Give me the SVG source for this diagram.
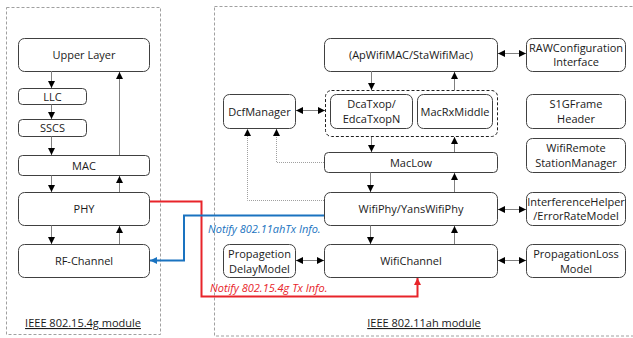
<svg xmlns="http://www.w3.org/2000/svg" width="633" height="338" viewBox="0 0 633 338">
<defs>
<marker id="ah" viewBox="0 0 10 10" refX="10" refY="5" markerWidth="7" markerHeight="7" markerUnits="userSpaceOnUse" orient="auto-start-reverse"><path d="M0,0 L10,5 L0,10 z" fill="#000"/></marker>
<marker id="ahr" viewBox="0 0 10 10" refX="10" refY="5" markerWidth="7" markerHeight="7" markerUnits="userSpaceOnUse" orient="auto"><path d="M0,0 L10,5 L0,10 z" fill="#e8242a"/></marker>
<marker id="ahb" viewBox="0 0 10 10" refX="10" refY="5" markerWidth="7" markerHeight="7" markerUnits="userSpaceOnUse" orient="auto"><path d="M0,0 L10,5 L0,10 z" fill="#1a73c0"/></marker>
</defs>
<style>
.mod{fill:none;stroke:#a0a0a0;stroke-width:1;stroke-dasharray:3,2}
.box{fill:#fff;stroke:#404040;stroke-width:1}
.grp{fill:none;stroke:#202020;stroke-width:1;stroke-dasharray:3,2}
text{font-family:"Open Sans","Liberation Sans",sans-serif;font-size:11px;fill:#1a1a1a;text-anchor:middle}
.lbl{text-decoration:underline}
.c{fill:none;stroke:#808080;stroke-width:1;marker-end:url(#ah)}
.bi{fill:none;stroke:#808080;stroke-width:1;marker-end:url(#ah);marker-start:url(#ah)}
.dot{fill:none;stroke:#a0a0a0;stroke-width:1;stroke-dasharray:1,1;marker-end:url(#ah)}
.red{fill:none;stroke:#e8242a;stroke-width:2;marker-end:url(#ahr)}
.blue{fill:none;stroke:#1a73c0;stroke-width:2;marker-end:url(#ahb)}
.rt{fill:#e8242a;font-style:italic;text-anchor:start}
.bt{fill:#1a73c0;font-style:italic;text-anchor:start}
</style>
<g id="module-154g">
<rect class="mod" x="6.5" y="7.5" width="154" height="327"/>
<text class="lbl" x="83" y="327">IEEE 802.15.4g module</text>
</g>
<g id="module-11ah">
<rect class="mod" x="214.5" y="6.5" width="430" height="329.5"/>
<text class="lbl" x="424" y="327">IEEE 802.11ah module</text>
</g>
<g id="upper-layer"><rect class="box" x="18.5" y="38.5" width="131" height="33" rx="6"/><text x="84" y="59">Upper Layer</text></g>
<g id="llc"><rect class="box" x="18.5" y="88.5" width="68" height="16" rx="4"/><text x="52.5" y="100.5">LLC</text></g>
<g id="sscs"><rect class="box" x="18.5" y="119.5" width="68" height="17" rx="4"/><text x="52.5" y="132">SSCS</text></g>
<g id="mac"><rect class="box" x="18.5" y="155.5" width="131" height="20" rx="4"/><text x="84" y="169.5">MAC</text></g>
<g id="phy"><rect class="box" x="18.5" y="192.5" width="131" height="33" rx="6"/><text x="84" y="213">PHY</text></g>
<g id="rf-channel"><rect class="box" x="18.5" y="244.5" width="131" height="33" rx="6"/><text x="84" y="265">RF-Channel</text></g>
<g id="apwifimac"><rect class="box" x="324.5" y="38.5" width="173" height="33" rx="6"/><text x="411" y="59">(ApWifiMAC/StaWifiMac)</text></g>
<g id="rawconfig"><rect class="box" x="526.5" y="38.5" width="99" height="33" rx="6"/><text x="576" y="51.5">RAWConfiguration</text><text x="576" y="66">Interface</text></g>
<g id="txop-group"><rect class="grp" x="325.5" y="90.5" width="172" height="46" rx="6"/></g>
<g id="dcatxop"><rect class="box" x="330.5" y="94.5" width="82" height="34" rx="6"/><text x="371.5" y="108">DcaTxop/</text><text x="371.5" y="123">EdcaTxopN</text></g>
<g id="macrxmiddle"><rect class="box" x="417.5" y="94.5" width="75" height="34" rx="6"/><text x="455" y="115.5">MacRxMiddle</text></g>
<g id="dcfmanager"><rect class="box" x="223.5" y="94.5" width="72" height="34" rx="6"/><text x="259.5" y="115.5">DcfManager</text></g>
<g id="s1gframe"><rect class="box" x="526.5" y="94.5" width="99" height="34" rx="6"/><text x="576" y="108">S1GFrame</text><text x="576" y="123">Header</text></g>
<g id="wifiremote"><rect class="box" x="526.5" y="138.5" width="99" height="34" rx="6"/><text x="576" y="152">WifiRemote</text><text x="576" y="167">StationManager</text></g>
<g id="maclow"><rect class="box" x="324.5" y="152.5" width="173" height="20" rx="4"/><text x="411" y="166.5">MacLow</text></g>
<g id="wifiphy"><rect class="box" x="324.5" y="192.5" width="173" height="33" rx="6"/><text x="411" y="213">WifiPhy/YansWifiPhy</text></g>
<g id="interference"><rect class="box" x="526.5" y="192.5" width="99" height="33" rx="6"/><text x="576" y="206">InterferenceHelper</text><text x="576" y="220">/ErrorRateModel</text></g>
<g id="wifichannel"><rect class="box" x="324.5" y="244.5" width="173" height="33" rx="6"/><text x="411" y="265">WifiChannel</text></g>
<g id="proploss"><rect class="box" x="526.5" y="244.5" width="99" height="33" rx="6"/><text x="576" y="258">PropagationLoss</text><text x="576" y="272.5">Model</text></g>
<g id="propdelay"><rect class="box" x="223.5" y="244.5" width="72" height="33" rx="6"/><text x="259.5" y="258">Propagetion</text><text x="259.5" y="272.5">DelayModel</text></g>
<g id="connectors">
<path class="c" d="M51.5,71 V88"/>
<path class="c" d="M51.5,104.5 V119"/>
<path class="c" d="M51.5,136.5 V155"/>
<path class="c" d="M119.5,155 V72"/>
<path class="c" d="M51.5,175.5 V192"/>
<path class="c" d="M119.5,192 V176"/>
<path class="c" d="M51.5,225.5 V244"/>
<path class="c" d="M119.5,244 V226"/>
<path class="c" d="M371.5,71 V90"/>
<path class="c" d="M454.5,90 V72"/>
<path class="c" d="M371.5,137 V152"/>
<path class="c" d="M454.5,152 V137"/>
<path class="c" d="M370.5,172.5 V192"/>
<path class="c" d="M454.5,192 V173"/>
<path class="c" d="M370.5,225.5 V244"/>
<path class="c" d="M454.5,244 V226"/>
<path class="bi" d="M296,110.5 H325"/>
<path class="bi" d="M498,53.5 H526"/>
<path class="bi" d="M498,209.5 H526"/>
<path class="bi" d="M498,260.5 H526"/>
<path class="bi" d="M296,260.5 H324"/>
<path class="dot" d="M324,162.5 H276.5 V129"/>
<path class="dot" d="M324,200.5 H247.5 V129"/>
<path class="red" d="M150,201.5 H201.5 V296.5 H417.5 V278"/>
<path class="blue" d="M324,215.5 H184 V260.5 H150"/>
<text class="bt" x="208" y="233">Notify 802.11ahTx Info.</text>
<text class="rt" x="210" y="292">Notify 802.15.4g Tx Info.</text>
</g>
</svg>
